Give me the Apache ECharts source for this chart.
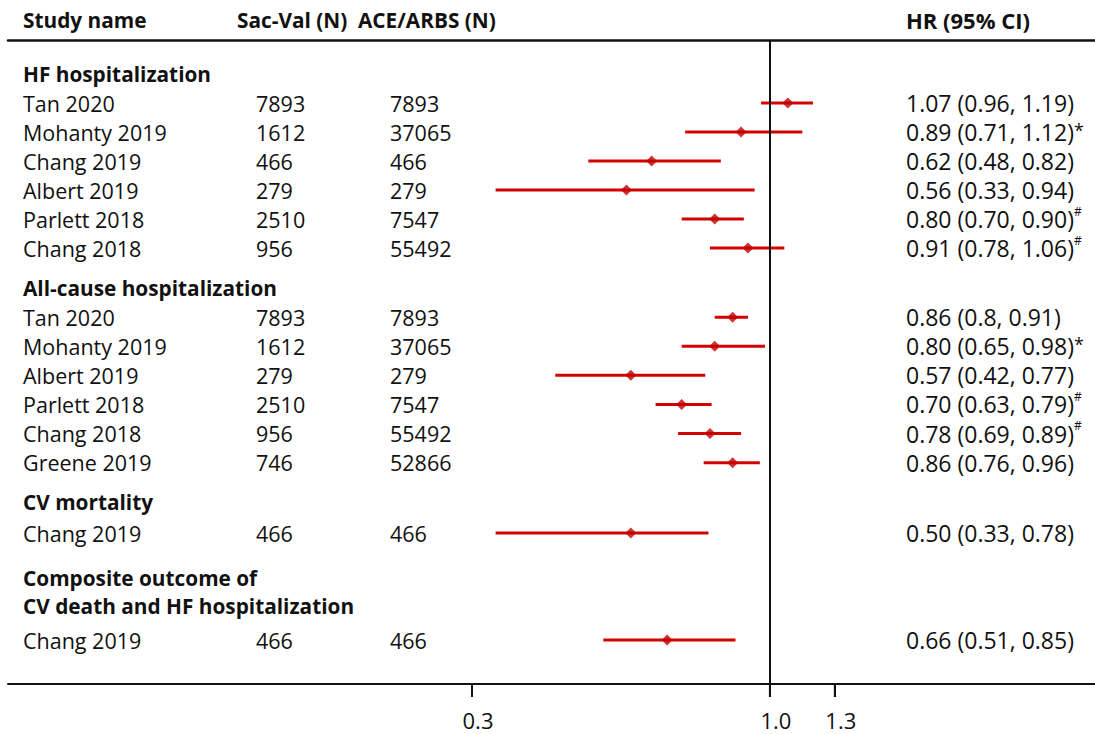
<!DOCTYPE html>
<html><head><meta charset="utf-8">
<script src="https://cdn.jsdelivr.net/npm/echarts@6/dist/echarts.min.js"></script>
<style>html,body{margin:0;padding:0;background:#fff}#c{width:1095px;height:734px}</style>
</head><body><div id="c"></div>
<script>
// ---- data ----
const columnHeaders = ['Study name', 'Sac-Val (N)', 'ACE/ARBS (N)', 'HR (95% CI)'];
const sectionTitles = ['HF hospitalization', 'All-cause hospitalization', 'CV mortality', 'Composite outcome of\nCV death and HF hospitalization'];
const studySection = [0, 0, 0, 0, 0, 0, 1, 1, 1, 1, 1, 1, 2, 3];
const studyNames = ['Tan 2020', 'Mohanty 2019', 'Chang 2019', 'Albert 2019', 'Parlett 2018', 'Chang 2018',
  'Tan 2020', 'Mohanty 2019', 'Albert 2019', 'Parlett 2018', 'Chang 2018', 'Greene 2019',
  'Chang 2019', 'Chang 2019'];
const sacValN = ['7893', '1612', '466', '279', '2510', '956', '7893', '1612', '279', '2510', '956', '746', '466', '466'];
const aceArbN = ['7893', '37065', '466', '279', '7547', '55492', '7893', '37065', '279', '7547', '55492', '52866', '466', '466'];
const hrPoint = [1.075, 0.89, 0.62, 0.56, 0.80, 0.915, 0.86, 0.80, 0.57, 0.70, 0.785, 0.86, 0.57, 0.66];
const ciLower = [0.965, 0.71, 0.48, 0.33, 0.70, 0.785, 0.80, 0.70, 0.42, 0.63, 0.69, 0.765, 0.33, 0.51];
const ciUpper = [1.19, 1.14, 0.82, 0.94, 0.90, 1.06, 0.915, 0.98, 0.77, 0.79, 0.89, 0.96, 0.78, 0.87];
const hrText = ['1.07 (0.96, 1.19)', '0.89 (0.71, 1.12)', '0.62 (0.48, 0.82)', '0.56 (0.33, 0.94)', '0.80 (0.70, 0.90)', '0.91 (0.78, 1.06)',
  '0.86 (0.8, 0.91)', '0.80 (0.65, 0.98)', '0.57 (0.42, 0.77)', '0.70 (0.63, 0.79)', '0.78 (0.69, 0.89)', '0.86 (0.76, 0.96)',
  '0.50 (0.33, 0.78)', '0.66 (0.51, 0.85)'];
const hrNote = ['', '*', '', '', '#', '#', '', '*', '', '#', '#', '', '', ''];
const axisTicks = [0.3, 1.0, 1.3];

// ---- layout / style ----
const FONT = 'Open Sans';
const FS = 21.5;     // left columns
const FS_HR = 23;    // HR column
const FS_B = 20.8;   // bold headings
const TXT = '#111';
const RED_LINE = '#d40000';
const RED_PT = '#c00000';
const X_MIN = 0.046, X_MAX = 3.72;
const sectionLayout = [
  { top: 59.6, height: 203 },
  { top: 273.5, height: 203.7 },
  { top: 486.5, height: 62 },
  { top: 568, height: 96 }
];

const rich = {
  n: { fontFamily: FONT, fontSize: FS, color: TXT, width: 233, lineHeight: 29 },
  s: { fontFamily: FONT, fontSize: FS, color: TXT, width: 134, lineHeight: 29 },
  a: { fontFamily: FONT, fontSize: FS, color: TXT, width: 516, lineHeight: 29 },
  r: { fontFamily: FONT, fontSize: FS_HR, color: TXT, lineHeight: 29 },
  star: { fontFamily: FONT, fontSize: 18, color: TXT, lineHeight: 29, padding: [0, 0, 4, 0] },
  hash: { fontFamily: FONT, fontSize: 12, color: TXT, lineHeight: 29, padding: [0, 0, 16, 0] },
  h: { fontFamily: FONT, fontSize: FS_B, fontWeight: 'bold', color: TXT, lineHeight: 28 }
};

// grid 0: frame (top rule, bottom axis with labels, vertical reference line)
// grid 1: thin band under the bottom axis whose split lines act as tick marks
const grids = [
  { left: 8, right: 0, top: 40, bottom: 50 },
  { left: 8, right: 0, top: 684, bottom: 37 }
];
const xAxes = [
  {
    type: 'log', gridIndex: 0, min: X_MIN, max: X_MAX, position: 'bottom',
    axisLine: { show: true, onZero: false, lineStyle: { color: TXT, width: 2 } },
    axisTick: { show: false },
    axisLabel: { show: true, customValues: axisTicks, formatter: v => Number(v).toFixed(1),
      fontFamily: FONT, fontSize: 22, color: TXT, margin: 25, padding: [0, 0, 0, 12] },
    splitLine: { show: false }, minorTick: { show: false }
  },
  {
    type: 'log', gridIndex: 0, min: X_MIN, max: X_MAX, position: 'top',
    axisLine: { show: true, onZero: false, lineStyle: { color: TXT, width: 2.5 } },
    axisTick: { show: false }, axisLabel: { show: false }, splitLine: { show: false }
  },
  {
    type: 'log', gridIndex: 1, min: X_MIN, max: X_MAX, position: 'top',
    axisLine: { show: false, onZero: false },
    axisTick: { show: true, inside: true, length: 13, customValues: axisTicks, lineStyle: { color: TXT, width: 2 } },
    axisLabel: { show: true, inside: true, customValues: axisTicks, formatter: () => '', fontSize: 1 },
    splitLine: { show: true, customValues: axisTicks, lineStyle: { color: TXT, width: 2 } },
    minorTick: { show: false }
  }
];
const yAxes = [
  { type: 'value', gridIndex: 0, min: 0, max: 1, show: false },
  { type: 'value', gridIndex: 1, min: 0, max: 1, show: false }
];
const series = [
  {
    type: 'line', xAxisIndex: 0, yAxisIndex: 0, data: [], silent: true,
    markLine: { silent: true, symbol: 'none', animation: false, label: { show: false },
      lineStyle: { color: TXT, width: 2, type: 'solid' }, data: [{ xAxis: 1 }] }
  },
  {
    // tick marks (drawn through the band's own scales)
    type: 'custom', xAxisIndex: 2, yAxisIndex: 1, silent: true, clip: false,
    encode: { x: 0, y: 1 },
    data: axisTicks.map(v => [v, 0.5]),
    renderItem: (params, api) => {
      const a = api.coord([api.value(0), 0]);
      const b = api.coord([api.value(0), 1]);
      return { type: 'line', shape: { x1: a[0], y1: a[1], x2: b[0], y2: b[1] }, style: { stroke: TXT, lineWidth: 2 } };
    }
  }
];

sectionTitles.forEach((title, s) => {
  const idx = [];
  studySection.forEach((sec, i) => { if (sec === s) idx.push(i); });
  const labels = ['{h|' + title + '}'].concat(idx.map(i => {
    let t = '{n|' + studyNames[i] + '}{s|' + sacValN[i] + '}{a|' + aceArbN[i] + '}{r|' + hrText[i] + '}';
    if (hrNote[i] === '*') t += '{star|*}';
    if (hrNote[i] === '#') t += '{hash|#}';
    return t;
  }));
  const gi = grids.length;
  grids.push({ left: 8, right: 0, top: sectionLayout[s].top, height: sectionLayout[s].height });
  const xi = xAxes.length, yi = yAxes.length;
  xAxes.push({ type: 'log', gridIndex: gi, min: X_MIN, max: X_MAX, show: false });
  yAxes.push({
    type: 'category', gridIndex: gi, inverse: true, boundaryGap: true,
    data: labels.map((l, k) => 'r' + k),
    axisLine: { show: false }, axisTick: { show: false }, splitLine: { show: false },
    axisLabel: { inside: true, margin: 15, interval: 0, formatter: (v, k) => labels[k], rich: rich }
  });
  series.push({
    type: 'custom', xAxisIndex: xi, yAxisIndex: yi, silent: true,
    encode: { x: [0, 1], y: 2 },
    data: idx.map((i, k) => [ciLower[i], ciUpper[i], k + 1]),
    renderItem: (params, api) => {
      const a = api.coord([api.value(0), api.value(2)]);
      const b = api.coord([api.value(1), api.value(2)]);
      return { type: 'line', shape: { x1: a[0], y1: a[1], x2: b[0], y2: b[1] }, style: { stroke: RED_LINE, lineWidth: 3 } };
    }
  });
  series.push({
    type: 'scatter', xAxisIndex: xi, yAxisIndex: yi, silent: true, z: 5,
    symbol: 'diamond', symbolSize: 11, itemStyle: { color: RED_PT },
    data: idx.map((i, k) => [hrPoint[i], k + 1])
  });
});

const chart = echarts.init(document.getElementById('c'), null, { renderer: 'svg' });
chart.setOption({
  animation: false,
  backgroundColor: '#fff',
  title: [
    {
      left: 23, top: 6, padding: 0,
      text: '{b1|' + columnHeaders[0] + '}{b2|' + columnHeaders[1] + '}{b3|' + columnHeaders[2] + '}',
      textStyle: { rich: {
        b1: { fontFamily: FONT, fontSize: FS_B, fontWeight: 'bold', color: TXT, width: 214, lineHeight: 28 },
        b2: { fontFamily: FONT, fontSize: FS_B, fontWeight: 'bold', color: TXT, width: 121, lineHeight: 28 },
        b3: { fontFamily: FONT, fontSize: FS_B, fontWeight: 'bold', color: TXT, lineHeight: 28 }
      } }
    },
    {
      left: 906, top: 6, padding: 0, text: columnHeaders[3],
      textStyle: { fontFamily: FONT, fontSize: 22, fontWeight: 'bold', color: TXT, lineHeight: 28 }
    }
  ],
  grid: grids,
  xAxis: xAxes,
  yAxis: yAxes,
  series: series
});
</script>
</body></html>
